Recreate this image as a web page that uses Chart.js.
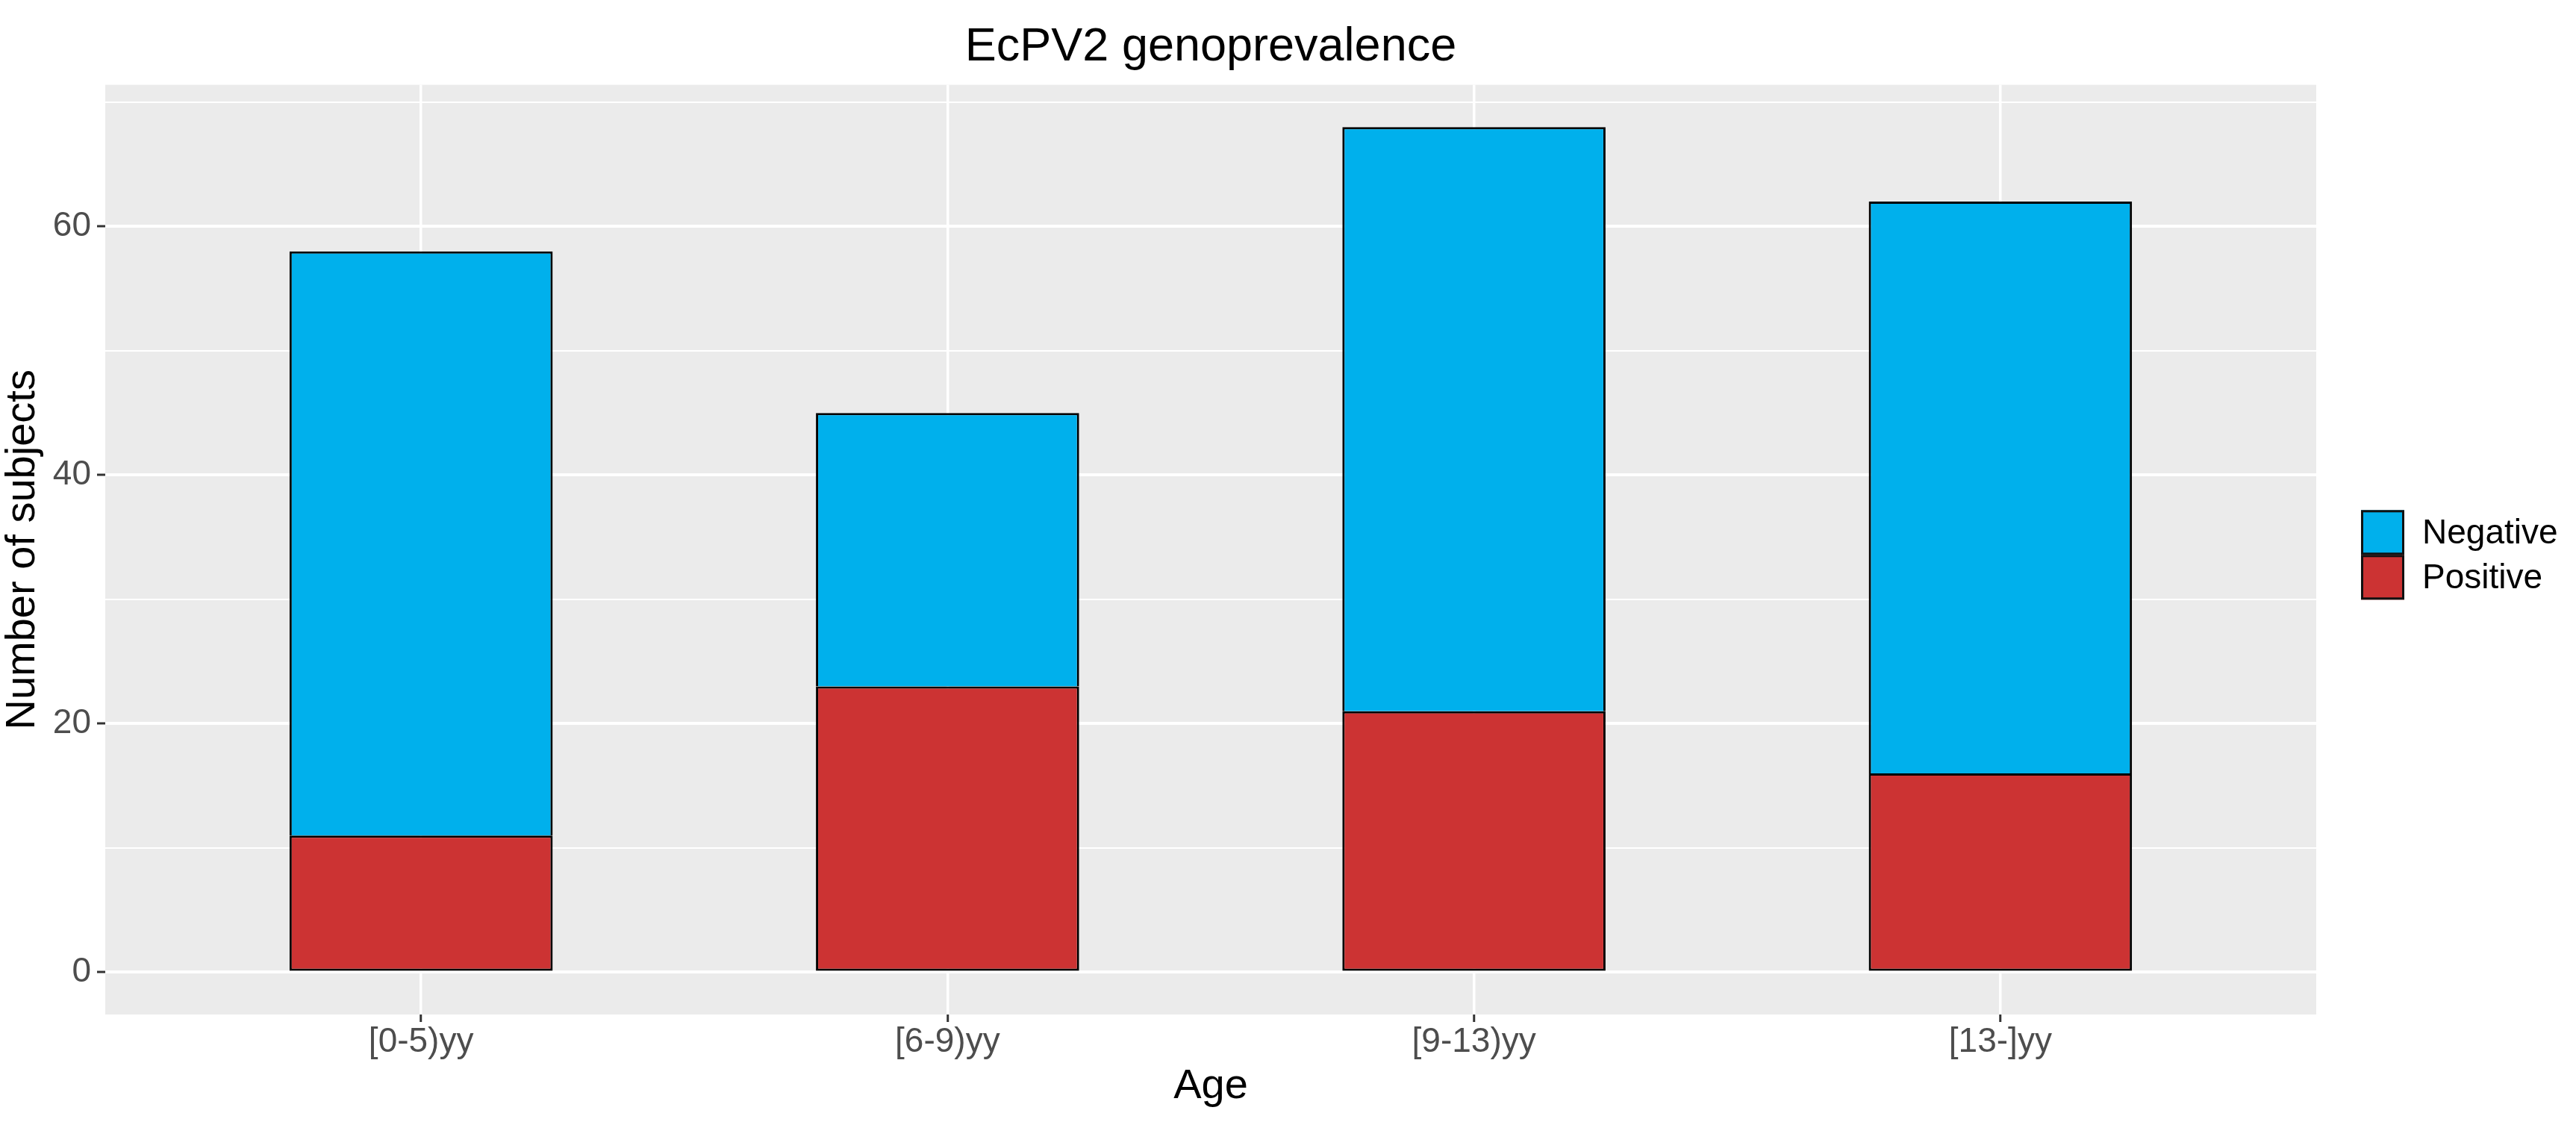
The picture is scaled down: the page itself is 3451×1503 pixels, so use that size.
<!DOCTYPE html>
<html>
<head>
<meta charset="utf-8">
<script src="https://cdn.jsdelivr.net/npm/chart.js@4.4.0/dist/chart.umd.min.js"></script>
<style>
  body { margin: 0; background: #fff; }
  canvas { display: block; }
</style>
</head>
<body>
<canvas id="chart" width="3451" height="1503" style="width:3451px;height:1503px"></canvas>
<script>
// data
const ageGroups = ['[0-5)yy', '[6-9)yy', '[9-13)yy', '[13-]yy'];
const positive = [11, 23, 21, 16];
const negative = [47, 22, 47, 46];
const yMajor = [0, 20, 40, 60];
const yMinor = [10, 30, 50, 70];

const FONT = "'Liberation Sans', Arial, sans-serif";
const BLUE = 'rgb(0,176,236)';
const RED = 'rgb(204,51,51)';

// ggplot style expansion: 5% on y, 0.6 on discrete x
const totals = positive.map((v, i) => v + negative[i]);
const maxTotal = Math.max(...totals);
const yMin = -0.05 * maxTotal, yMax = maxTotal * 1.05;

function pts(arr) {
  return arr.map((v, i) => ({x: i + 1, y: v}));
}

const panelBg = {
  id: 'panelBg',
  beforeDraw(chart) {
    const {ctx, chartArea: a} = chart;
    ctx.save();
    ctx.fillStyle = '#fff';
    ctx.fillRect(0, 0, chart.width, chart.height);
    ctx.fillStyle = '#EBEBEB';
    ctx.fillRect(a.left, a.top, a.right - a.left, a.bottom - a.top);
    ctx.restore();
  }
};

// legend like ggplot: boxes stacked with no gap, right of panel
const sideLegend = {
  id: 'sideLegend',
  afterDraw(chart) {
    const {ctx, chartArea: a} = chart;
    const items = chart.data.datasets.slice().reverse();
    const bw = 58, bh = 60;
    const x = a.right + 60;
    let y = (a.top + a.bottom) / 2 + 7 - items.length * bh / 2;
    ctx.save();
    ctx.font = '46px ' + FONT;
    ctx.textBaseline = 'middle';
    ctx.textAlign = 'left';
    items.forEach(ds => {
      ctx.fillStyle = ds.backgroundColor;
      ctx.fillRect(x, y, bw, bh);
      ctx.lineWidth = 3;
      ctx.strokeStyle = '#111';
      ctx.strokeRect(x + 1.5, y + 1.5, bw - 3, bh - 3);
      ctx.fillStyle = '#000';
      ctx.fillText(ds.label, x + bw + 24, y + bh / 2 + 2);
      y += bh;
    });
    ctx.restore();
  }
};

new Chart(document.getElementById('chart'), {
  type: 'bar',
  data: {
    datasets: [
      {label: 'Positive', data: pts(positive), backgroundColor: RED,
       borderColor: '#000', borderWidth: 3, borderSkipped: false},
      {label: 'Negative', data: pts(negative), backgroundColor: BLUE,
       borderColor: '#000', borderWidth: 3, borderSkipped: 'bottom'}
    ]
  },
  options: {
    responsive: false,
    animation: false,
    devicePixelRatio: 1,
    layout: {padding: {left: 0, right: 348, top: 0, bottom: 0}},
    datasets: {bar: {barPercentage: 0.5, categoryPercentage: 1}},
    plugins: {
      legend: {display: false},
      tooltip: {enabled: false},
      title: {
        display: true,
        text: 'EcPV2 genoprevalence',
        fullSize: false,
        color: '#000',
        font: {family: FONT, size: 63, weight: 'normal'},
        padding: {top: 26, bottom: 12}
      }
    },
    scales: {
      x: {
        type: 'linear',
        stacked: true,
        offset: false,
        min: 0.4,
        max: ageGroups.length + 0.6,
        afterBuildTicks: s => { s.ticks = ageGroups.map((_, i) => ({value: i + 1})); },
        afterFit: s => { s.height = 144; },
        border: {display: false},
        grid: {offset: false, color: '#fff', lineWidth: 3.5, tickLength: 10, tickColor: '#333', tickWidth: 3},
        ticks: {
          callback: v => ageGroups[v - 1],
          color: '#4D4D4D',
          font: {family: FONT, size: 46},
          padding: 0,
          maxRotation: 0,
          autoSkip: false
        },
        title: {
          display: true,
          text: 'Age',
          color: '#000',
          font: {family: FONT, size: 56},
          padding: {top: 0, bottom: 14}
        }
      },
      y: {
        stacked: true,
        min: yMin,
        max: yMax,
        afterBuildTicks: s => {
          s.ticks = yMajor.concat(yMinor).sort((a, b) => a - b).map(v => ({value: v}));
        },
        afterFit: s => { s.width = 141; },
        border: {display: false},
        grid: {
          color: '#fff',
          lineWidth: c => yMajor.includes(c.tick.value) ? 4 : 2,
          tickLength: 11,
          tickWidth: 3,
          tickColor: c => yMajor.includes(c.tick.value) ? '#333' : 'rgba(0,0,0,0)'
        },
        ticks: {
          callback: v => yMajor.includes(v) ? String(v) : '',
          color: '#4D4D4D',
          font: {family: FONT, size: 46},
          padding: 8
        },
        title: {
          display: true,
          text: 'Number of subjects',
          color: '#000',
          font: {family: FONT, size: 56, lineHeight: 1.1},
          padding: {top: 0, bottom: 0}
        }
      }
    }
  },
  plugins: [panelBg, sideLegend]
});
</script>
</body>
</html>
